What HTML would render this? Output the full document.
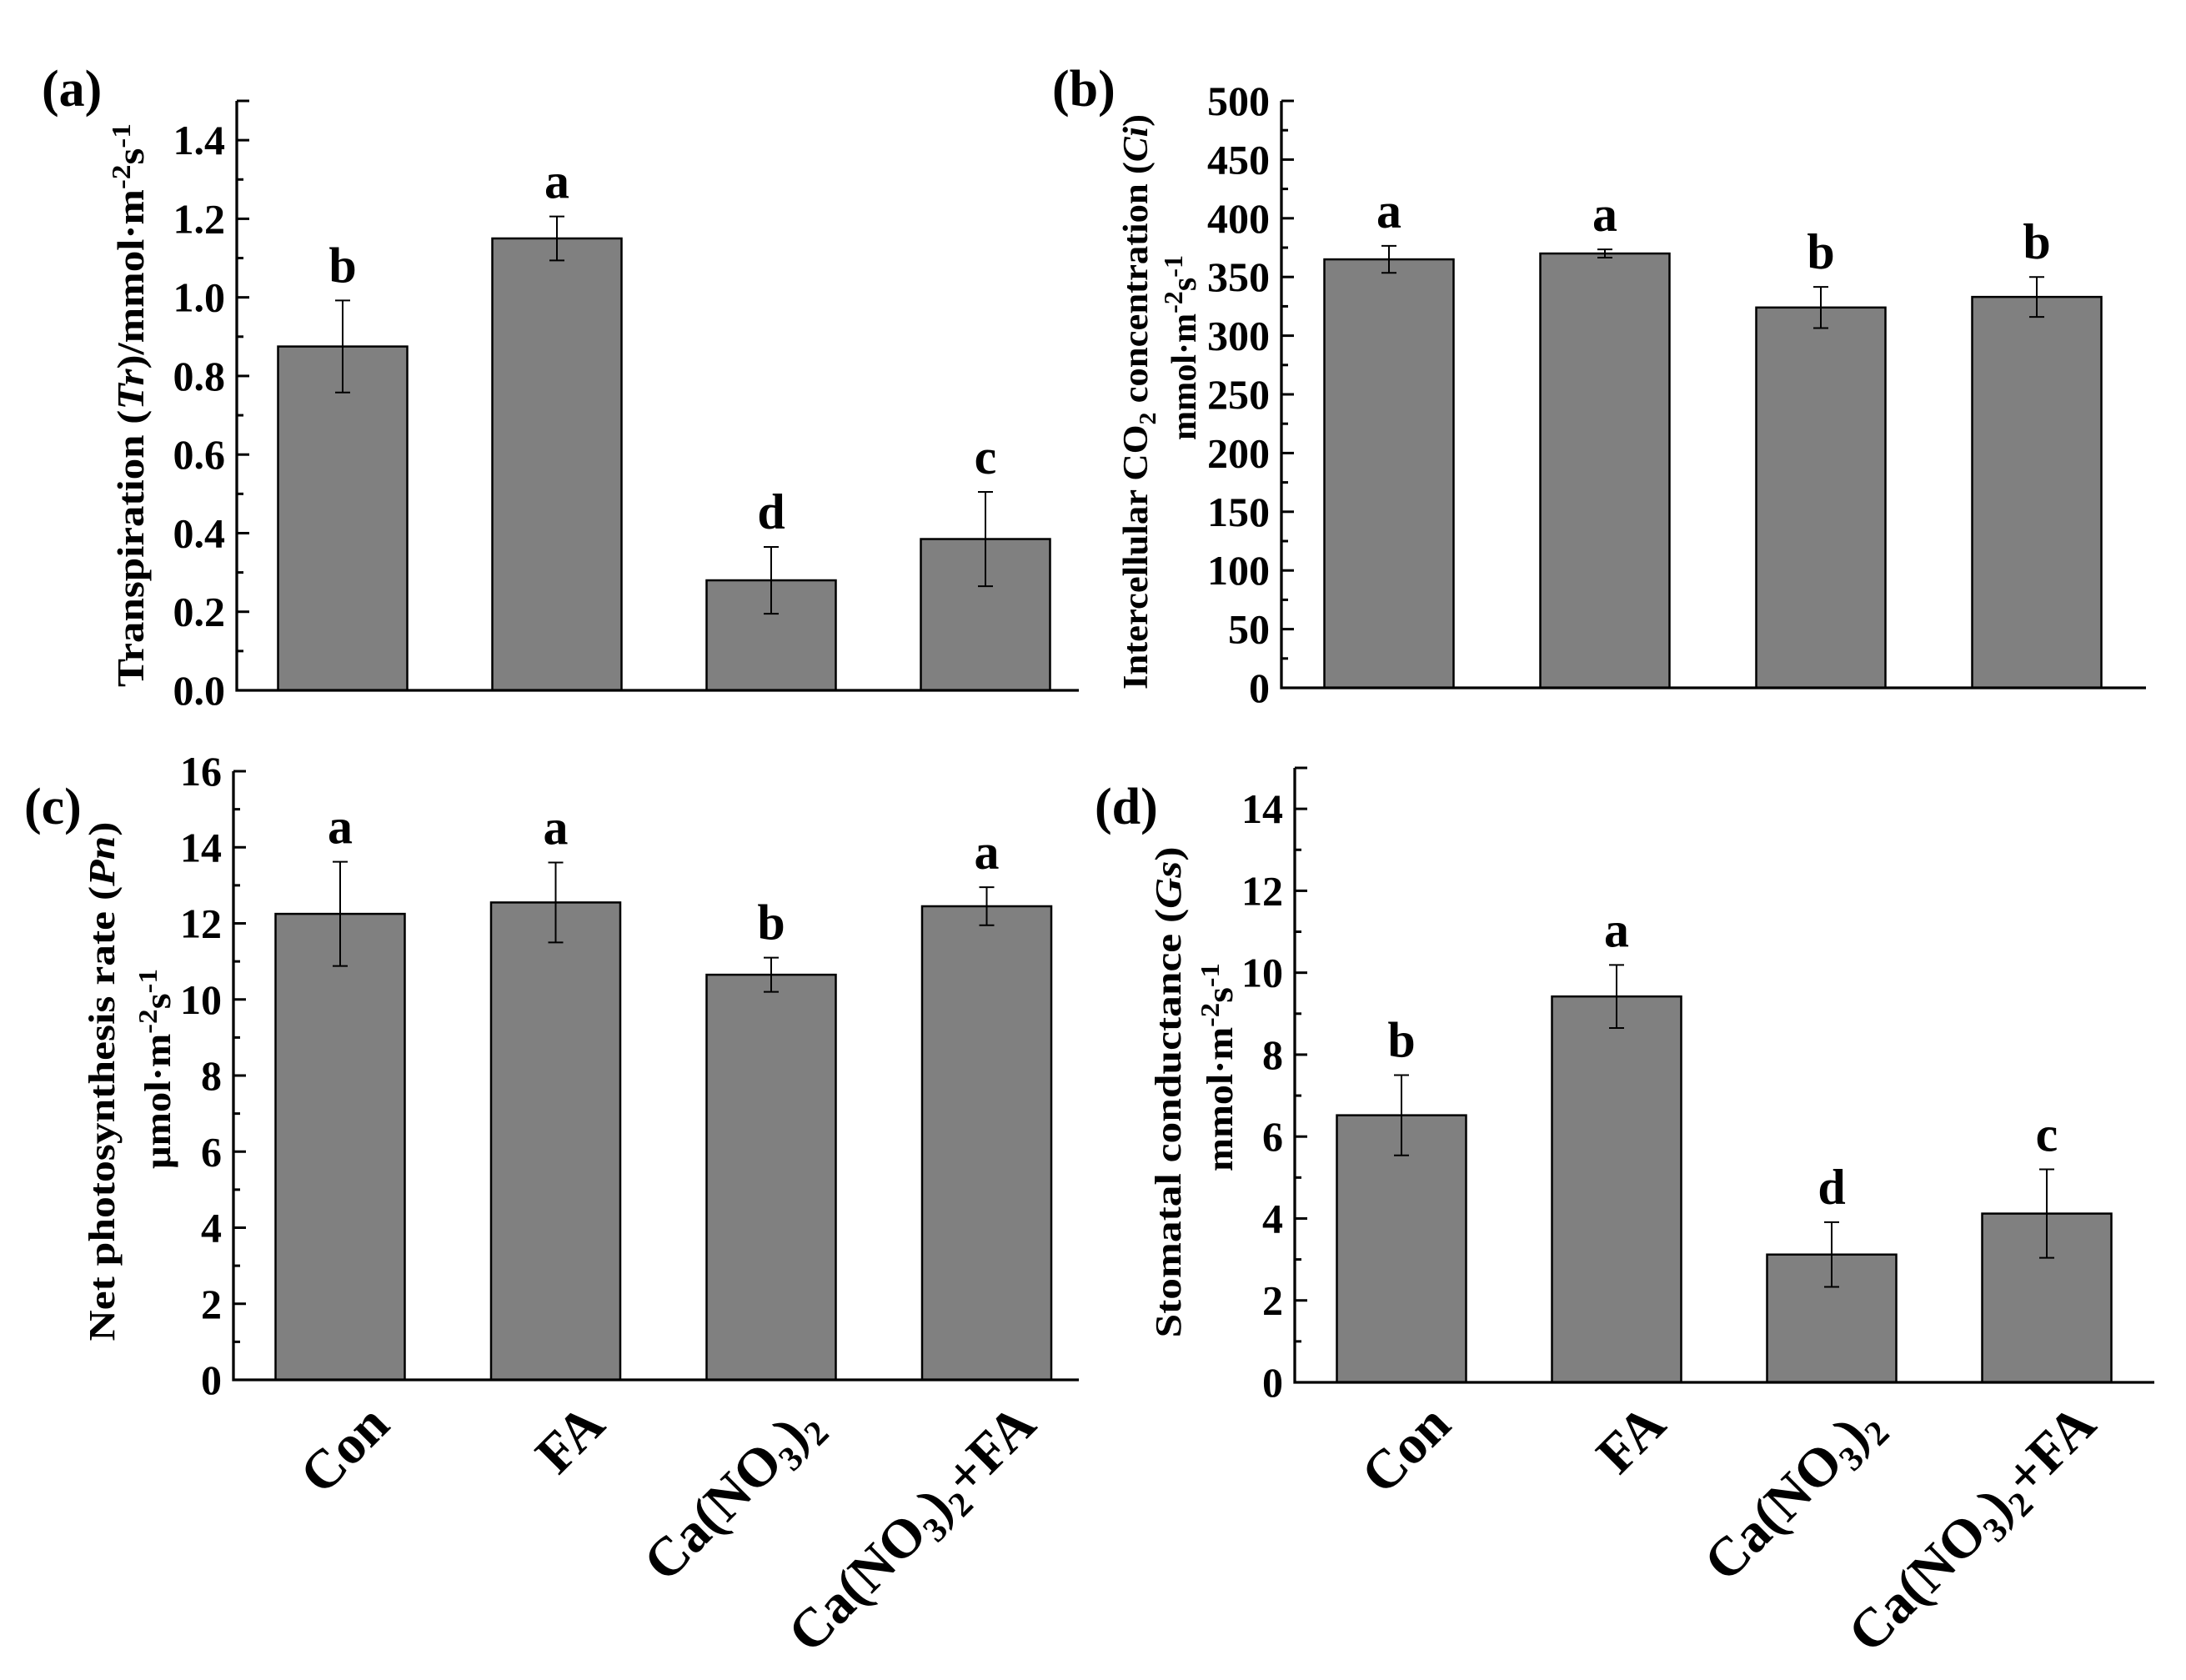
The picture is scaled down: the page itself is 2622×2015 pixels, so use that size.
<!DOCTYPE html>
<html><head><meta charset="utf-8"><style>
html,body{margin:0;padding:0;background:#fff}
svg{display:block}
text{font-family:"Liberation Serif","DejaVu Serif",serif;font-weight:bold;fill:#000}
</style></head><body>
<svg id="fig" width="2622" height="2015" viewBox="0 0 2622 2015" xmlns="http://www.w3.org/2000/svg"></svg>
<script>
// categories
const categories = ["Con","FA","Ca(NO3)2","Ca(NO3)2+FA"];
// panel (a) transpiration
const aValues = [0.875, 1.15, 0.28, 0.385];
const aErrors = [0.117, 0.056, 0.085, 0.12];
const aLetters = ["b","a","d","c"];
const aTicks = [0,0.2,0.4,0.6,0.8,1.0,1.2,1.4];
const aTickLabels = ["0.0","0.2","0.4","0.6","0.8","1.0","1.2","1.4"];
// panel (b) Ci
const bValues = [365, 370, 324, 333];
const bErrors = [11.5, 3.5, 17.5, 17];
const bLetters = ["a","a","b","b"];
const bTicks = [0,50,100,150,200,250,300,350,400,450,500];
const bTickLabels = ["0","50","100","150","200","250","300","350","400","450","500"];
// panel (c) Pn
const cValues = [12.25, 12.55, 10.65, 12.45];
const cErrors = [1.37, 1.05, 0.45, 0.5];
const cLetters = ["a","a","b","a"];
const cTicks = [0,2,4,6,8,10,12,14,16];
const cTickLabels = ["0","2","4","6","8","10","12","14","16"];
// panel (d) Gs
const dValues = [6.52, 9.42, 3.12, 4.12];
const dErrors = [0.98, 0.77, 0.79, 1.08];
const dLetters = ["b","a","d","c"];
const dTicks = [0,2,4,6,8,10,12,14];
const dTickLabels = ["0","2","4","6","8","10","12","14"];

const NS="http://www.w3.org/2000/svg";
const svg=document.getElementById('fig');
function mk(tag,attrs,parent){const e=document.createElementNS(NS,tag);for(const k in attrs)e.setAttribute(k,attrs[k]);(parent||svg).appendChild(e);return e;}

function panel(id,cfg){
  const g=mk('g',{});
  
  
  const yScale=v=>cfg.y0-(v-0)/(cfg.max)*(cfg.y0-cfg.yTop);
  const xCenter=i=>cfg.x0+cfg.offset+cfg.step*i;
  cfg.values.forEach((v,i)=>{
    const cx=xCenter(i), w=155;
    const r=mk('rect',{x:cx-w/2,y:yScale(v),width:w,height:cfg.y0-yScale(v),fill:'#808080',stroke:'#000','stroke-width':2.5},g);
    
    
    const e=cfg.errors[i], yt=yScale(v+e), yb=yScale(v-e);
    const eb=mk('path',{d:`M${cx},${yt}V${yb}M${cx-9},${yt}H${cx+9}M${cx-9},${yb}H${cx+9}`,stroke:'#000','stroke-width':2,fill:'none'},g);
    
    
    const t=mk('text',{x:cx,y:yt-22,'text-anchor':'middle','font-size':60},g);
    t.textContent=cfg.letters[i];
    
    
  });
  const ax=mk('path',{d:`M${cfg.x0},${cfg.yTop}V${cfg.y0}H${cfg.xEnd}`,stroke:'#000','stroke-width':3.3,fill:'none'},g);
  
  
  mk('path',{d:`M${cfg.x0},${cfg.yTop}h15`,stroke:'#000','stroke-width':3},g);
  cfg.ticks.forEach((v,i)=>{
    const y=yScale(v);
    mk('path',{d:`M${cfg.x0},${y}h15`,stroke:'#000','stroke-width':3},g);
    if(i<cfg.ticks.length-1||cfg.minorTop){
      const next=i<cfg.ticks.length-1?cfg.ticks[i+1]:v+(cfg.ticks[1]-cfg.ticks[0]);
      const ym=yScale((v+next)/2);
      if(ym>cfg.yTop+2) mk('path',{d:`M${cfg.x0},${ym}h8`,stroke:'#000','stroke-width':3},g);
    }
    const t=mk('text',{x:cfg.x0-14,y:y+17,'text-anchor':'end','font-size':50},g);
    t.textContent=cfg.tickLabels[i];
    
    
  });
  const pl=mk('text',{x:cfg.lx,y:cfg.ly,'font-size':62},g);
  pl.textContent='('+id+')';
  
  
  return {g,xCenter};
}

function sup(t,txt,dy){const s=mk('tspan',{dy:dy,'font-size':32},t);s.textContent=txt;return s;}
function norm(t,txt,dy,italic){const s=mk('tspan',{dy:dy},t);if(italic)s.setAttribute('font-style','italic');s.textContent=txt;return s;}
function unitsLine(t,prefix){norm(t,prefix,0);sup(t,'-2',-16);norm(t,'s',16);sup(t,'-1',-16);}

const A=panel('a',{x0:284,xEnd:1294,y0:828,yTop:121,max:1.5,offset:127,step:257,values:aValues,errors:aErrors,letters:aLetters,ticks:aTicks,tickLabels:aTickLabels,lx:50,ly:127,minorTop:true});
const B=panel('b',{x0:1537,xEnd:2574,y0:825,yTop:121,max:500,offset:129,step:259,values:bValues,errors:bErrors,letters:bLetters,ticks:bTicks,tickLabels:bTickLabels,lx:1262,ly:127});
const C=panel('c',{x0:280,xEnd:1294,y0:1655,yTop:925,max:16,offset:128,step:258.5,values:cValues,errors:cErrors,letters:cLetters,ticks:cTicks,tickLabels:cTickLabels,lx:29,ly:988});
const D=panel('d',{x0:1553,xEnd:2584,y0:1658,yTop:921,max:15,offset:128,step:258,values:dValues,errors:dErrors,letters:dLetters,ticks:dTicks,tickLabels:dTickLabels,lx:1313,ly:988,minorTop:true});

function vtitle(x,yc,len,size,build,name){
  const t=mk('text',{x:0,y:0,'text-anchor':'middle','font-size':size,transform:`translate(${x},${yc}) rotate(-90)`,textLength:len,lengthAdjust:'spacingAndGlyphs'});
  build(t);
  
  
}
vtitle(172,486,676,46,t=>{norm(t,'Transpiration (',0);norm(t,'Tr',0,true);norm(t,')/mmol·m',0);sup(t,'-2',-16);norm(t,'s',16);sup(t,'-1',-16);},'y-axis-title-a');
vtitle(1376,482,690,42,t=>{norm(t,'Intercellular CO',0);const s=mk('tspan',{dy:10,'font-size':28},t);s.textContent='2';norm(t,' concentration (',-10);norm(t,'Ci',0,true);norm(t,')',0);},'y-axis-title-b');
vtitle(1434,417,222,42,t=>unitsLine(t,'mmol·m'),'y-axis-units-b');
vtitle(137,1297,623,44,t=>{norm(t,'Net photosynthesis rate (',0);norm(t,'Pn',0,true);norm(t,')',0);},'y-axis-title-c');
vtitle(204,1282,240,44,t=>unitsLine(t,'μmol·m'),'y-axis-units-c');
vtitle(1416,1310,589,44,t=>{norm(t,'Stomatal conductance (',0);norm(t,'Gs',0,true);norm(t,')',0);},'y-axis-title-d');
vtitle(1478,1280,250,44,t=>unitsLine(t,'mmol·m'),'y-axis-units-d');

function xlabels(P,id){
  categories.forEach((c,i)=>{
    const x=P.xCenter(i)+62, y=1712;
    const t=mk('text',{x:0,y:0,'text-anchor':'end','font-size':66,transform:`translate(${x},${y}) rotate(-45)`});
    const m=c.match(/^Ca\(NO3\)2(.*)$/);
    if(m){norm(t,'Ca(NO',0);const s=mk('tspan',{dy:13,'font-size':42},t);s.textContent='3';norm(t,')',-13);const s2=mk('tspan',{dy:13,'font-size':42},t);s2.textContent='2';if(m[1]){norm(t,m[1],-13);}}
    else t.textContent=c;
    
    
  });
}
xlabels(C,'c');
xlabels(D,'d');
</script>
</body></html>
